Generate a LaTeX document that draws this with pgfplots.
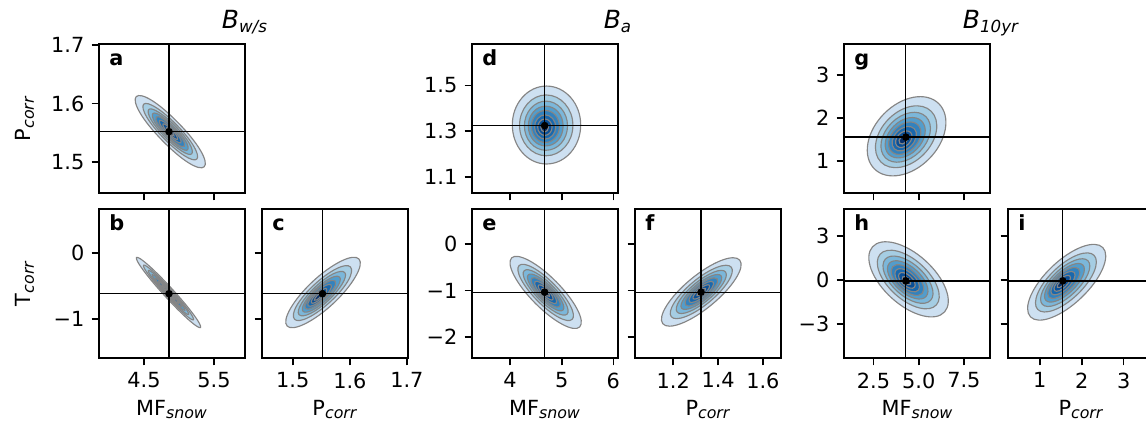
\documentclass[border=0pt]{standalone}
\usepackage{fontspec}
\setmainfont{DejaVu Sans}
\usepackage{pgfplots}
\pgfplotsset{compat=1.18}
\definecolor{c1}{HTML}{CDE0F1}
\definecolor{c2}{HTML}{A5CDE3}
\definecolor{c3}{HTML}{7BB7DA}
\definecolor{c4}{HTML}{529DCC}
\definecolor{c5}{HTML}{3282BE}
\definecolor{c6}{HTML}{1968AD}
\definecolor{c7}{HTML}{0A4F96}
\definecolor{c8}{HTML}{08306B}
\definecolor{cl}{HTML}{858585}
\newcommand{\sub}[1]{\textsubscript{\fontsize{7.6}{8}\selectfont\itshape #1}}
\pgfplotsset{
  panel/.style={scale only axis, width=70.08pt, height=71.52pt, anchor=north west,
    axis line style={line width=0.9pt}, tick align=outside, xtick pos=left, ytick pos=left,
    major tick length=3.5pt, tick style={black, line width=0.8pt},
    tick label style={font=\fontsize{10}{12}\selectfont}, clip=true},
  lv/.style={fill=#1, draw=cl, line width=0.55pt, smooth cycle, tension=0.68},
  xh/.style={black, line width=0.6pt},
  md/.style={only marks, mark=*, mark size=1.6pt, black},
}
\begin{document}
\begin{tikzpicture}
\useasboundingbox (0pt,0pt) rectangle (550.08pt,-208.8pt);
% ---------- a ----------
\begin{axis}[panel, at={(47.52pt,-21.12pt)}, xmin=3.857, xmax=5.943, ymin=1.447, ymax=1.702,
  xtick={4.5,5.5}, xticklabels={}, ytick={1.5,1.6,1.7}, yticklabels={1.5,1.6,1.7}]
\addplot[lv=c1] coordinates {(5.361,1.492) (5.306,1.520) (4.998,1.566) (4.618,1.605) (4.389,1.612) (4.444,1.584) (4.752,1.538) (5.132,1.499)};
\addplot[lv=c2] coordinates {(5.254,1.505) (5.211,1.527) (4.971,1.563) (4.675,1.593) (4.496,1.599) (4.539,1.577) (4.779,1.541) (5.075,1.511)};
\addplot[lv=c3] coordinates {(5.181,1.514) (5.147,1.532) (4.953,1.561) (4.713,1.585) (4.569,1.590) (4.603,1.572) (4.798,1.543) (5.037,1.519)};
\addplot[lv=c4] coordinates {(5.123,1.521) (5.095,1.536) (4.938,1.559) (4.744,1.579) (4.627,1.583) (4.655,1.568) (4.812,1.545) (5.006,1.525)};
\addplot[lv=c5] coordinates {(5.074,1.527) (5.052,1.539) (4.925,1.558) (4.770,1.574) (4.676,1.577) (4.698,1.565) (4.825,1.546) (4.980,1.530)};
\addplot[lv=c6] coordinates {(5.026,1.533) (5.009,1.542) (4.913,1.556) (4.795,1.568) (4.724,1.571) (4.741,1.562) (4.837,1.548) (4.955,1.536)};
\addplot[lv=c7] coordinates {(4.977,1.539) (4.966,1.545) (4.901,1.555) (4.821,1.563) (4.773,1.565) (4.785,1.559) (4.849,1.549) (4.929,1.541)};
\addplot[lv=c8] coordinates {(4.929,1.545) (4.922,1.548) (4.889,1.554) (4.847,1.558) (4.822,1.559) (4.828,1.556) (4.862,1.550) (4.903,1.546)};
\addplot[xh] coordinates {(4.857,1.40) (4.857,1.75)};
\addplot[xh] coordinates {(3.80,1.552) (6.00,1.552)};
\addplot[md] coordinates {(4.857,1.552)};
\end{axis}
% ---------- b ----------
\begin{axis}[panel, at={(47.52pt,-100.32pt)}, xmin=3.857, xmax=5.943, ymin=-1.588, ymax=0.659,
  xtick={4.5,5.5}, xticklabels={4.5,5.5}, ytick={-1,0}, yticklabels={−1,0}]
\addplot[lv=c1] coordinates {(5.307,-1.128) (5.211,-0.937) (4.903,-0.549) (4.564,-0.190) (4.393,-0.072) (4.489,-0.263) (4.797,-0.651) (5.136,-1.010)};
\addplot[lv=c2] coordinates {(5.206,-1.012) (5.132,-0.863) (4.891,-0.560) (4.627,-0.280) (4.494,-0.188) (4.568,-0.337) (4.809,-0.640) (5.073,-0.920)};
\addplot[lv=c3] coordinates {(5.138,-0.933) (5.077,-0.812) (4.883,-0.568) (4.670,-0.342) (4.562,-0.267) (4.623,-0.388) (4.817,-0.632) (5.030,-0.858)};
\addplot[lv=c4] coordinates {(5.083,-0.869) (5.034,-0.772) (4.877,-0.574) (4.704,-0.391) (4.617,-0.331) (4.666,-0.428) (4.823,-0.626) (4.996,-0.809)};
\addplot[lv=c5] coordinates {(5.037,-0.816) (4.998,-0.738) (4.872,-0.579) (4.733,-0.432) (4.663,-0.384) (4.702,-0.462) (4.828,-0.621) (4.967,-0.768)};
\addplot[lv=c6] coordinates {(4.992,-0.764) (4.962,-0.704) (4.866,-0.584) (4.761,-0.473) (4.708,-0.436) (4.738,-0.496) (4.834,-0.616) (4.939,-0.727)};
\addplot[lv=c7] coordinates {(4.946,-0.711) (4.926,-0.671) (4.861,-0.589) (4.790,-0.514) (4.754,-0.489) (4.774,-0.529) (4.839,-0.611) (4.910,-0.686)};
\addplot[lv=c8] coordinates {(4.900,-0.658) (4.890,-0.637) (4.856,-0.594) (4.819,-0.555) (4.800,-0.542) (4.810,-0.563) (4.844,-0.606) (4.882,-0.645)};
\addplot[xh] coordinates {(4.857,-2) (4.857,1)};
\addplot[xh] coordinates {(3.80,-0.618) (6.00,-0.618)};
\addplot[md] coordinates {(4.857,-0.618)};
\end{axis}
% ---------- c ----------
\begin{axis}[panel, at={(125.76pt,-100.32pt)}, xmin=1.446, xmax=1.702, ymin=-1.588, ymax=0.659,
  xtick={1.5,1.6,1.7}, xticklabels={1.5,1.6,1.7}, ytick={-1,0}, yticklabels={}]
\addplot[lv=c1] coordinates {(1.616,-0.095) (1.610,-0.360) (1.571,-0.766) (1.521,-1.074) (1.490,-1.105) (1.496,-0.840) (1.535,-0.434) (1.585,-0.126)};
\addplot[lv=c2] coordinates {(1.601,-0.215) (1.597,-0.422) (1.566,-0.738) (1.527,-0.979) (1.503,-1.003) (1.507,-0.796) (1.538,-0.480) (1.577,-0.239)};
\addplot[lv=c3] coordinates {(1.591,-0.299) (1.587,-0.466) (1.562,-0.722) (1.531,-0.916) (1.511,-0.935) (1.515,-0.768) (1.540,-0.512) (1.571,-0.318)};
\addplot[lv=c4] coordinates {(1.582,-0.368) (1.579,-0.504) (1.559,-0.711) (1.534,-0.868) (1.518,-0.884) (1.521,-0.748) (1.541,-0.541) (1.566,-0.384)};
\addplot[lv=c5] coordinates {(1.574,-0.427) (1.572,-0.536) (1.555,-0.702) (1.535,-0.828) (1.522,-0.841) (1.525,-0.732) (1.541,-0.566) (1.561,-0.440)};
\addplot[lv=c6] coordinates {(1.567,-0.486) (1.565,-0.569) (1.553,-0.695) (1.537,-0.790) (1.527,-0.800) (1.529,-0.717) (1.542,-0.592) (1.557,-0.496)};
\addplot[lv=c7] coordinates {(1.559,-0.545) (1.558,-0.601) (1.550,-0.686) (1.539,-0.751) (1.533,-0.757) (1.534,-0.701) (1.542,-0.616) (1.553,-0.552)};
\addplot[lv=c8] coordinates {(1.552,-0.604) (1.551,-0.634) (1.547,-0.678) (1.542,-0.712) (1.538,-0.716) (1.539,-0.686) (1.543,-0.642) (1.549,-0.608)};
\addplot[xh] coordinates {(1.552,-2) (1.552,1)};
\addplot[xh] coordinates {(1.40,-0.618) (1.75,-0.618)};
\addplot[md] coordinates {(1.552,-0.618)};
\end{axis}
% ---------- d ----------
\begin{axis}[panel, at={(226.56pt,-21.12pt)}, xmin=3.265, xmax=6.09, ymin=1.029, ymax=1.681,
  xtick={4,5,6}, xticklabels={}, ytick={1.1,1.3,1.5}, yticklabels={1.1,1.3,1.5}]
\addplot[lv=c1] coordinates {(4.706,1.497) (5.174,1.447) (5.368,1.327) (5.174,1.206) (4.706,1.156) (4.238,1.206) (4.045,1.327) (4.238,1.447)};
\addplot[lv=c2] coordinates {(4.701,1.458) (5.066,1.419) (5.217,1.325) (5.066,1.231) (4.701,1.192) (4.336,1.231) (4.185,1.325) (4.336,1.419)};
\addplot[lv=c3] coordinates {(4.696,1.431) (4.991,1.399) (5.113,1.323) (4.991,1.247) (4.696,1.216) (4.401,1.247) (4.279,1.323) (4.401,1.399)};
\addplot[lv=c4] coordinates {(4.691,1.409) (4.930,1.384) (5.028,1.322) (4.930,1.260) (4.691,1.235) (4.453,1.260) (4.354,1.322) (4.453,1.384)};
\addplot[lv=c5] coordinates {(4.685,1.390) (4.877,1.370) (4.956,1.320) (4.877,1.271) (4.685,1.250) (4.493,1.271) (4.414,1.320) (4.493,1.370)};
\addplot[lv=c6] coordinates {(4.680,1.371) (4.825,1.355) (4.885,1.318) (4.825,1.281) (4.680,1.265) (4.535,1.281) (4.475,1.318) (4.535,1.355)};
\addplot[lv=c7] coordinates {(4.675,1.353) (4.773,1.342) (4.814,1.317) (4.773,1.292) (4.675,1.281) (4.577,1.292) (4.536,1.317) (4.577,1.342)};
\addplot[lv=c8] coordinates {(4.670,1.334) (4.721,1.328) (4.743,1.315) (4.721,1.302) (4.670,1.296) (4.619,1.302) (4.597,1.315) (4.619,1.328)};
\addplot[xh] coordinates {(4.67,0.9) (4.67,1.8)};
\addplot[xh] coordinates {(3.0,1.324) (6.5,1.324)};
\addplot[md] coordinates {(4.67,1.324)};
\end{axis}
% ---------- e ----------
\begin{axis}[panel, at={(226.56pt,-100.32pt)}, xmin=3.265, xmax=6.09, ymin=-2.45, ymax=0.753,
  xtick={4,5,6}, xticklabels={4,5,6}, ytick={-2,-1,0}, yticklabels={−2,−1,0}]
\addplot[lv=c1] coordinates {(5.348,-1.782) (5.302,-1.405) (4.897,-0.814) (4.371,-0.356) (4.032,-0.298) (4.078,-0.675) (4.483,-1.266) (5.009,-1.724)};
\addplot[lv=c2] coordinates {(5.203,-1.619) (5.167,-1.325) (4.851,-0.864) (4.441,-0.506) (4.177,-0.461) (4.213,-0.755) (4.529,-1.216) (4.939,-1.574)};
\addplot[lv=c3] coordinates {(5.105,-1.507) (5.076,-1.270) (4.820,-0.898) (4.489,-0.609) (4.275,-0.573) (4.304,-0.810) (4.560,-1.182) (4.891,-1.471)};
\addplot[lv=c4] coordinates {(5.026,-1.418) (5.002,-1.226) (4.796,-0.925) (4.527,-0.691) (4.354,-0.662) (4.378,-0.854) (4.584,-1.155) (4.853,-1.389)};
\addplot[lv=c5] coordinates {(4.960,-1.344) (4.941,-1.190) (4.775,-0.947) (4.559,-0.760) (4.420,-0.736) (4.439,-0.890) (4.605,-1.133) (4.821,-1.320)};
\addplot[lv=c6] coordinates {(4.894,-1.270) (4.880,-1.153) (4.754,-0.970) (4.591,-0.828) (4.486,-0.810) (4.500,-0.927) (4.626,-1.110) (4.789,-1.252)};
\addplot[lv=c7] coordinates {(4.828,-1.196) (4.819,-1.117) (4.734,-0.993) (4.623,-0.896) (4.552,-0.884) (4.561,-0.963) (4.647,-1.088) (4.757,-1.184)};
\addplot[lv=c8] coordinates {(4.762,-1.122) (4.757,-1.080) (4.713,-1.015) (4.655,-0.965) (4.618,-0.958) (4.623,-1.000) (4.667,-1.065) (4.725,-1.115)};
\addplot[xh] coordinates {(4.67,-3) (4.67,1)};
\addplot[xh] coordinates {(3.0,-1.035) (6.5,-1.035)};
\addplot[md] coordinates {(4.67,-1.035)};
\end{axis}
% ---------- f ----------
\begin{axis}[panel, at={(304.8pt,-100.32pt)}, xmin=1.029, xmax=1.681, ymin=-2.45, ymax=0.753,
  xtick={1.2,1.4,1.6}, xticklabels={1.2,1.4,1.6}, ytick={-2,-1,0}, yticklabels={}]
\addplot[lv=c1] coordinates {(1.497,-0.348) (1.479,-0.742) (1.371,-1.305) (1.236,-1.707) (1.153,-1.712) (1.171,-1.318) (1.279,-0.755) (1.414,-0.353)};
\addplot[lv=c2] coordinates {(1.459,-0.498) (1.445,-0.805) (1.361,-1.245) (1.256,-1.558) (1.191,-1.562) (1.205,-1.255) (1.289,-0.816) (1.394,-0.502)};
\addplot[lv=c3] coordinates {(1.433,-0.600) (1.422,-0.849) (1.354,-1.203) (1.269,-1.457) (1.217,-1.460) (1.228,-1.211) (1.296,-0.857) (1.381,-0.603)};
\addplot[lv=c4] coordinates {(1.413,-0.682) (1.404,-0.883) (1.349,-1.170) (1.280,-1.375) (1.237,-1.378) (1.247,-1.177) (1.301,-0.890) (1.370,-0.685)};
\addplot[lv=c5] coordinates {(1.396,-0.750) (1.388,-0.912) (1.344,-1.143) (1.289,-1.308) (1.255,-1.310) (1.262,-1.148) (1.306,-0.917) (1.361,-0.752)};
\addplot[lv=c6] coordinates {(1.378,-0.819) (1.373,-0.941) (1.339,-1.115) (1.297,-1.240) (1.272,-1.241) (1.277,-1.119) (1.311,-0.945) (1.353,-0.820)};
\addplot[lv=c7] coordinates {(1.361,-0.887) (1.357,-0.970) (1.335,-1.088) (1.306,-1.172) (1.289,-1.173) (1.293,-1.091) (1.315,-0.972) (1.344,-0.888)};
\addplot[lv=c8] coordinates {(1.344,-0.955) (1.342,-0.998) (1.330,-1.060) (1.315,-1.105) (1.306,-1.105) (1.308,-1.062) (1.320,-1.000) (1.335,-0.956)};
\addplot[xh] coordinates {(1.324,-3) (1.324,1)};
\addplot[xh] coordinates {(0.9,-1.035) (1.8,-1.035)};
\addplot[md] coordinates {(1.324,-1.035)};
\end{axis}
% ---------- g ----------
\begin{axis}[panel, at={(405.12pt,-21.12pt)}, xmin=0.868, xmax=8.945, ymin=0.246, ymax=3.723,
  xtick={2.5,5,7.5}, xticklabels={}, ytick={1,2,3}, yticklabels={1,2,3}]
\addplot[lv=c1] coordinates {(6.116,2.329) (6.471,1.733) (5.572,1.042) (3.945,0.660) (2.544,0.811) (2.189,1.407) (3.088,2.098) (4.715,2.480)};
\addplot[lv=c2] coordinates {(5.697,2.151) (5.974,1.686) (5.273,1.147) (4.004,0.849) (2.911,0.967) (2.634,1.432) (3.335,1.971) (4.604,2.269)};
\addplot[lv=c3] coordinates {(5.404,2.025) (5.628,1.650) (5.061,1.214) (4.036,0.974) (3.154,1.069) (2.930,1.444) (3.497,1.880) (4.522,2.120)};
\addplot[lv=c4] coordinates {(5.164,1.923) (5.345,1.619) (4.886,1.267) (4.057,1.072) (3.342,1.149) (3.161,1.453) (3.620,1.805) (4.449,2.000)};
\addplot[lv=c5] coordinates {(4.959,1.835) (5.105,1.591) (4.736,1.308) (4.069,1.151) (3.495,1.213) (3.349,1.457) (3.718,1.740) (4.385,1.897)};
\addplot[lv=c6] coordinates {(4.755,1.748) (4.865,1.564) (4.586,1.349) (4.082,1.231) (3.647,1.278) (3.537,1.463) (3.816,1.677) (4.320,1.795)};
\addplot[lv=c7] coordinates {(4.551,1.660) (4.626,1.535) (4.437,1.390) (4.095,1.310) (3.801,1.342) (3.726,1.467) (3.915,1.612) (4.257,1.692)};
\addplot[lv=c8] coordinates {(4.346,1.574) (4.386,1.508) (4.287,1.432) (4.108,1.390) (3.954,1.407) (3.914,1.472) (4.013,1.548) (4.192,1.590)};
\addplot[xh] coordinates {(4.29,0) (4.29,4)};
\addplot[xh] coordinates {(0.5,1.55) (9.5,1.55)};
\addplot[md] coordinates {(4.29,1.55)};
\end{axis}
% ---------- h ----------
\begin{axis}[panel, at={(405.12pt,-100.32pt)}, xmin=0.868, xmax=8.945, ymin=-5.35, ymax=4.85,
  xtick={2.5,5,7.5}, xticklabels={2.5,5.0,7.5}, ytick={-3,0,3}, yticklabels={−3,0,3}]
\addplot[lv=c1] coordinates {(6.434,-2.191) (6.502,-0.628) (5.362,1.323) (3.681,2.519) (2.444,2.261) (2.376,0.698) (3.516,-1.253) (5.197,-2.449)};
\addplot[lv=c2] coordinates {(5.979,-1.713) (6.032,-0.494) (5.143,1.028) (3.832,1.961) (2.867,1.759) (2.814,0.540) (3.703,-0.982) (5.014,-1.915)};
\addplot[lv=c3] coordinates {(5.665,-1.391) (5.708,-0.407) (4.989,0.822) (3.930,1.576) (3.151,1.413) (3.108,0.429) (3.827,-0.800) (4.886,-1.554)};
\addplot[lv=c4] coordinates {(5.409,-1.136) (5.444,-0.339) (4.863,0.656) (4.005,1.266) (3.375,1.134) (3.340,0.337) (3.921,-0.658) (4.779,-1.268)};
\addplot[lv=c5] coordinates {(5.195,-0.927) (5.223,-0.286) (4.755,0.514) (4.066,1.004) (3.559,0.899) (3.531,0.258) (3.999,-0.542) (4.688,-1.032)};
\addplot[lv=c6] coordinates {(4.979,-0.716) (5.001,-0.232) (4.647,0.373) (4.126,0.744) (3.743,0.664) (3.721,0.180) (4.075,-0.425) (4.596,-0.796)};
\addplot[lv=c7] coordinates {(4.765,-0.505) (4.779,-0.177) (4.540,0.232) (4.187,0.484) (3.927,0.429) (3.913,0.101) (4.152,-0.308) (4.505,-0.560)};
\addplot[lv=c8] coordinates {(4.549,-0.295) (4.557,-0.123) (4.432,0.092) (4.247,0.223) (4.111,0.195) (4.103,0.023) (4.228,-0.192) (4.413,-0.323)};
\addplot[xh] coordinates {(4.29,-6) (4.29,6)};
\addplot[xh] coordinates {(0.5,-0.07) (9.5,-0.07)};
\addplot[md] coordinates {(4.29,-0.07)};
\end{axis}
% ---------- i ----------
\begin{axis}[panel, at={(483.84pt,-100.32pt)}, xmin=0.246, xmax=3.723, ymin=-5.35, ymax=4.85,
  xtick={1,2,3}, xticklabels={1,2,3}, ytick={-3,0,3}, yticklabels={}]
\addplot[lv=c1] coordinates {(2.505,2.206) (2.500,0.766) (1.993,-1.219) (1.281,-2.585) (0.781,-2.534) (0.786,-1.094) (1.293,0.891) (2.005,2.257)};
\addplot[lv=c2] coordinates {(2.297,1.673) (2.293,0.549) (1.898,-0.999) (1.343,-2.064) (0.953,-2.025) (0.957,-0.901) (1.352,0.647) (1.907,1.712)};
\addplot[lv=c3] coordinates {(2.151,1.304) (2.148,0.397) (1.829,-0.854) (1.380,-1.714) (1.065,-1.682) (1.068,-0.775) (1.387,0.476) (1.836,1.336)};
\addplot[lv=c4] coordinates {(2.030,1.008) (2.027,0.273) (1.769,-0.739) (1.405,-1.436) (1.150,-1.410) (1.153,-0.675) (1.411,0.337) (1.775,1.034)};
\addplot[lv=c5] coordinates {(1.926,0.759) (1.924,0.168) (1.717,-0.646) (1.425,-1.206) (1.220,-1.185) (1.222,-0.594) (1.429,0.220) (1.721,0.780)};
\addplot[lv=c6] coordinates {(1.822,0.510) (1.821,0.063) (1.664,-0.552) (1.443,-0.976) (1.288,-0.960) (1.289,-0.513) (1.446,0.102) (1.667,0.526)};
\addplot[lv=c7] coordinates {(1.719,0.260) (1.718,-0.043) (1.612,-0.460) (1.462,-0.746) (1.357,-0.736) (1.358,-0.433) (1.465,-0.016) (1.614,0.270)};
\addplot[lv=c8] coordinates {(1.615,0.011) (1.614,-0.148) (1.559,-0.366) (1.480,-0.516) (1.425,-0.511) (1.426,-0.352) (1.482,-0.134) (1.560,0.016)};
\addplot[xh] coordinates {(1.55,-6) (1.55,6)};
\addplot[xh] coordinates {(0,-0.07) (4,-0.07)};
\addplot[md] coordinates {(1.55,-0.07)};
\end{axis}
% ---------- texts ----------
\node[rotate=90] at (11.86pt,-56.88pt) {P\sub{corr}};
\node[rotate=90] at (11.86pt,-136.08pt) {T\sub{corr}};
\node[anchor=base] at (82.56pt,-199.5pt) {MF\sub{snow}};
\node[anchor=base] at (160.8pt,-199.5pt) {P\sub{corr}};
\node[anchor=base] at (261.6pt,-199.5pt) {MF\sub{snow}};
\node[anchor=base] at (339.84pt,-199.5pt) {P\sub{corr}};
\node[anchor=base] at (440.4pt,-199.5pt) {MF\sub{snow}};
\node[anchor=base] at (518.88pt,-199.5pt) {P\sub{corr}};
\node[anchor=base, font=\fontsize{12}{14}\selectfont] at (117.6pt,-13.8pt) {\itshape B\textsubscript{w/s}};
\node[anchor=base, font=\fontsize{12}{14}\selectfont] at (296.64pt,-13.8pt) {\itshape B\textsubscript{a}};
\node[anchor=base, font=\fontsize{12}{14}\selectfont] at (475.68pt,-13.8pt) {\itshape B\textsubscript{10yr}};
\node[anchor=base west, inner sep=0pt, font=\bfseries] at (52.32pt,-31.54pt) {a};
\node[anchor=base west, inner sep=0pt, font=\bfseries] at (52.32pt,-110.74pt) {b};
\node[anchor=base west, inner sep=0pt, font=\bfseries] at (130.56pt,-110.74pt) {c};
\node[anchor=base west, inner sep=0pt, font=\bfseries] at (231.36pt,-31.54pt) {d};
\node[anchor=base west, inner sep=0pt, font=\bfseries] at (231.36pt,-110.74pt) {e};
\node[anchor=base west, inner sep=0pt, font=\bfseries] at (309.6pt,-110.74pt) {f};
\node[anchor=base west, inner sep=0pt, font=\bfseries] at (409.92pt,-31.54pt) {g};
\node[anchor=base west, inner sep=0pt, font=\bfseries] at (409.92pt,-110.74pt) {h};
\node[anchor=base west, inner sep=0pt, font=\bfseries] at (488.64pt,-110.74pt) {i};
\end{tikzpicture}
\end{document}
